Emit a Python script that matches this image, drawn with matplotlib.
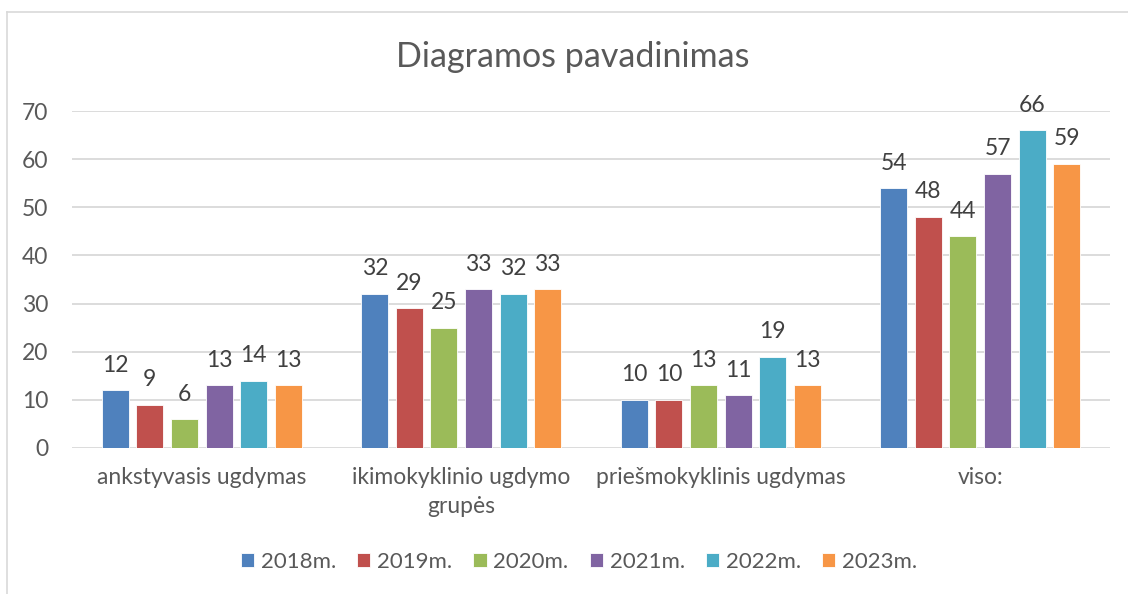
import matplotlib
matplotlib.use("Agg")
import matplotlib.pyplot as plt
from matplotlib.lines import Line2D
import numpy as np

categories = ["ankstyvasis ugdymas", "ikimokyklinio ugdymo\ngrupės",
              "priešmokyklinis ugdymas", "viso:"]
series_names = ["2018m.", "2019m.", "2020m.", "2021m.", "2022m.", "2023m."]
v2018 = [12, 32, 10, 54]
v2019 = [9, 29, 10, 48]
v2020 = [6, 25, 13, 44]
v2021 = [13, 33, 11, 57]
v2022 = [14, 32, 19, 66]
v2023 = [13, 33, 13, 59]
series_values = [v2018, v2019, v2020, v2021, v2022, v2023]
colors = ["#4F81BD", "#C0504D", "#9BBB59", "#8064A2", "#4BACC6", "#F79646"]
title = "Diagramos pavadinimas"
yticks = [0, 10, 20, 30, 40, 50, 60, 70]

plt.rcParams['font.family'] = ['Lato', 'DejaVu Sans']
text_color = "#595959"
grid_color = "#D9D9D9"

W, H = 1128, 594
fig = plt.figure(figsize=(W / 100, H / 100), dpi=100)
ax = fig.add_axes([72 / W, 1 - 448 / H, (1110 - 72) / W, (448 - 111) / H])

x = np.arange(len(categories))
step = 0.1333
width = 0.104
n = len(series_values)
for i, (name, vals, c) in enumerate(zip(series_names, series_values, colors)):
    pos = x + (i - (n - 1) / 2) * step
    bars = ax.bar(pos, vals, width=width, color=c, label=name,
                  edgecolor="white", linewidth=0.6, zorder=3)
    for b, v in zip(bars, vals):
        ax.annotate(str(v), (b.get_x() + b.get_width() / 2, v),
                    xytext=(0, 18), textcoords="offset points",
                    ha="center", va="center", fontsize=16.5, color="#404040")

ax.set_xlim(-0.5, len(categories) - 0.5)
ax.set_ylim(0, 70)
ax.set_yticks(yticks)
ax.set_xticks(x)
ax.set_xticklabels(categories, linespacing=1.45)
ax.tick_params(axis="y", length=0, pad=17, labelsize=16.5, labelcolor=text_color)
ax.tick_params(axis="x", length=0, pad=14, labelsize=16.5, labelcolor=text_color)
for s in ax.spines.values():
    s.set_visible(False)
ax.grid(axis="y", color=grid_color, linewidth=1.3, zorder=0)
ax.set_axisbelow(True)

fig.text(573 / W, 1 - 57 / H, title, ha="center", va="center",
         fontsize=24.5, color=text_color)

leg = fig.legend(loc="center", bbox_to_anchor=(579 / W, 1 - 562 / H),
                 ncol=6, frameon=False, fontsize=16,
                 handlelength=0.6, handleheight=0.6, handletextpad=0.3,
                 columnspacing=0.95)
for t in leg.get_texts():
    t.set_color(text_color)

# chart border
fig.add_artist(Line2D([7 / W, 7 / W], [0, 1 - 12 / H], color=grid_color,
                      linewidth=1.2, transform=fig.transFigure))
fig.add_artist(Line2D([7 / W, 1], [1 - 12 / H, 1 - 12 / H], color=grid_color,
                      linewidth=1.2, transform=fig.transFigure))

fig.savefig("out.png", dpi=100)
